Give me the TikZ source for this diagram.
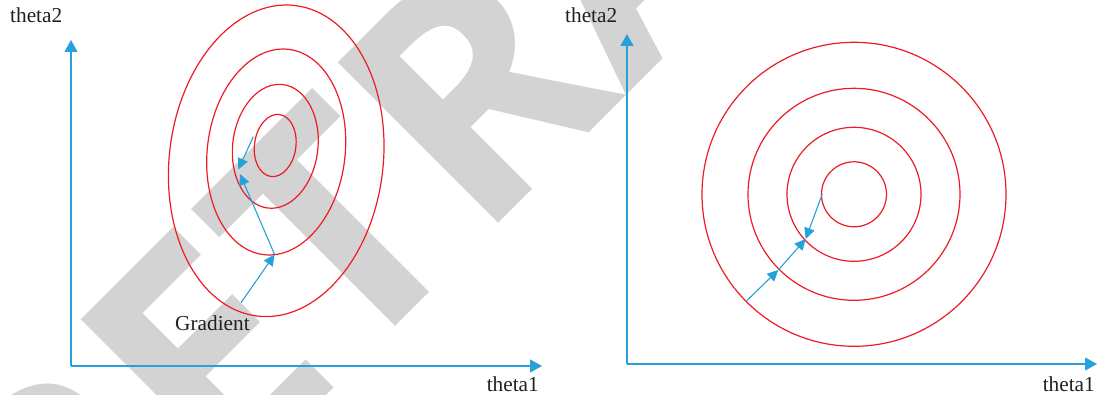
\documentclass[tikz,border=0pt]{standalone}
\usepackage{fontspec}
\setmainfont{Liberation Serif}
\newfontfamily\wmfont{Open Sans}
\usetikzlibrary{arrows.meta}
\definecolor{axisblue}{RGB}{39,160,219}
\definecolor{curvered}{RGB}{237,28,36}
\definecolor{wmgrey}{RGB}{211,211,211}
\definecolor{txt}{RGB}{35,31,32}
\tikzset{
  axisline/.style={draw=axisblue, line width=1.2pt, -{Triangle[length=12pt,width=13pt]}},
  steparrow/.style={draw=axisblue, line width=1.1pt, -{Triangle[length=11pt,width=10.5pt]}},
  contour/.style={draw=curvered, line width=1.2pt},
  lbl/.style={inner sep=0pt, text=txt, font=\fontsize{21.3}{24}\selectfont},
  wmark/.style={inner sep=0pt, text=wmgrey, font=\wmfont\bfseries\fontsize{318}{318}\selectfont}
}
\begin{document}
\begin{tikzpicture}[x=1pt,y=-1pt]
\useasboundingbox (0,0) rectangle (1098,395);
% watermark
\node[wmark, rotate=45, anchor=base west] (wm) at (478,244) {\llap{RET}RACTED};
% ---------- left panel ----------
\coordinate (LO) at (71,366);
\coordinate (LY) at (71,40);
\coordinate (LX) at (542,366);
\draw[axisline] (LO) -- (LY);
\draw[axisline] (LO) -- (LX);
\node[lbl, anchor=base west] (lt2) at (10,23) {theta2};
\node[lbl, anchor=base east] (lt1) at (539,391) {theta1};
\coordinate (e1) at (276.2,160.8);
\coordinate (e2) at (276.2,152);
\coordinate (e3) at (275.3,146.3);
\coordinate (e4) at (275.2,145.5);
\draw[contour, rotate around={-7:(e1)}] (e1) ellipse [x radius=106.9, y radius=156.4];
\draw[contour, rotate around={-7:(e2)}] (e2) ellipse [x radius=68.9, y radius=103.4];
\draw[contour, rotate around={-7:(e3)}] (e3) ellipse [x radius=42.6, y radius=62.2];
\draw[contour, rotate around={-8:(e4)}] (e4) ellipse [x radius=20.7, y radius=31.3];
\node[lbl, anchor=base west] (grad) at (175,331) {Gradient};
\coordinate (g0) at (241,302.7);
\coordinate (g1) at (274.6,254.5);
\coordinate (g2) at (240,174);
\coordinate (g3) at (253.3,136.7);
\coordinate (g4) at (238.3,169.5);
\draw[steparrow] (g0) -- (g1);
\draw[steparrow] (g1) -- (g2);
\draw[steparrow] (g3) -- (g4);
% ---------- right panel ----------
\coordinate (RO) at (627,364);
\coordinate (RY) at (627,34);
\coordinate (RX) at (1097,364);
\draw[axisline] (RO) -- (RY);
\draw[axisline] (RO) -- (RX);
\node[lbl, anchor=base west] (rt2) at (565,23) {theta2};
\node[lbl, anchor=base east] (rt1) at (1095,391) {theta1};
\coordinate (cc) at (854,194.3);
\draw[contour] (cc) circle [radius=152];
\draw[contour] (cc) circle [radius=106];
\draw[contour] (cc) circle [radius=67];
\draw[contour] (cc) circle [radius=32.5];
\coordinate (r0) at (746.7,300.7);
\coordinate (r1) at (778.3,270);
\coordinate (r2) at (805.7,239);
\coordinate (r3) at (822.3,194);
\draw[steparrow] (r0) -- (r1);
\draw[steparrow] (r1) -- (r2);
\draw[steparrow] (r3) -- (r2);
\end{tikzpicture}
\end{document}
